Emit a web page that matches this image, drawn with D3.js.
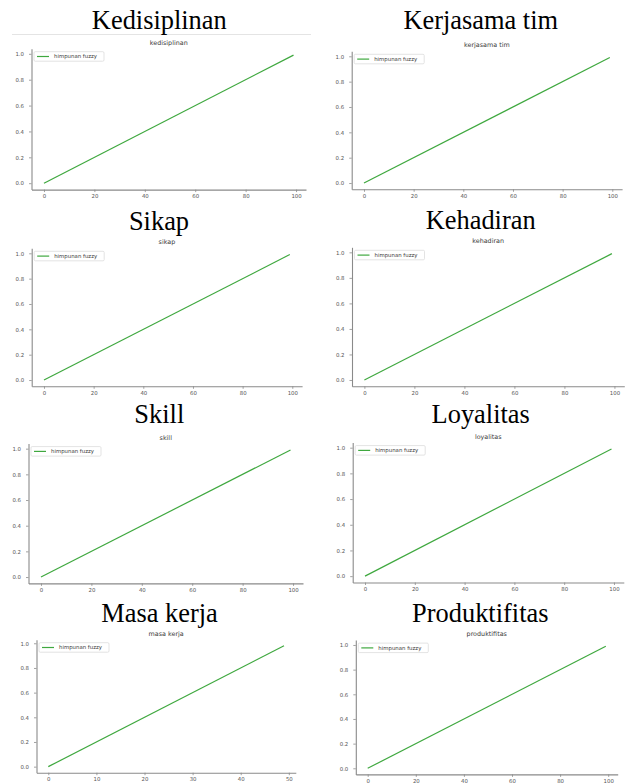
<!DOCTYPE html>
<html>
<head>
<meta charset="utf-8">
<script src="https://cdn.jsdelivr.net/npm/d3@7/dist/d3.min.js"></script>
<style>
  html, body { margin: 0; padding: 0; background: #fff; }
  svg { display: block; }
  .tick text { font-family: "DejaVu Sans", sans-serif; fill: #555; }
</style>
</head>
<body>
<svg id="chart" width="627" height="784"></svg>
<script>
// Membership functions of the fuzzy input variables
const headings   = ["Kedisiplinan", "Kerjasama tim", "Sikap", "Kehadiran", "Skill", "Loyalitas", "Masa kerja", "Produktifitas"];
const plotTitles = ["kedisiplinan", "kerjasama tim", "sikap", "kehadiran", "skill", "loyalitas", "masa kerja", "produktifitas"];
const seriesName = "himpunan fuzzy";

// Universe of discourse (first and last sample) and membership degree at those samples
const universeX = [[0, 99], [0, 99], [0, 99], [0, 99], [0, 99], [0, 99], [0, 49], [0, 99]];
const degreeY   = [[0, 0.99], [0, 0.99], [0, 0.99], [0, 0.99], [0, 0.99], [0, 0.99], [0, 0.98], [0, 0.99]];

// Tick labels
const xTicks100 = [0, 20, 40, 60, 80, 100];
const xTicks50  = [0, 10, 20, 30, 40, 50];
const yTicks    = [0, 0.2, 0.4, 0.6, 0.8, 1.0];
const xTickSets = [xTicks100, xTicks100, xTicks100, xTicks100, xTicks100, xTicks100, xTicks50, xTicks100];

// Panel geometry: axes box [left, top, right, bottom], heading centre and baseline
const panels = [
  { box: [31.5, 48.7, 306.0, 189.6], hx: 159.3, hy: 28.5 },
  { box: [351.7, 51.3, 622.1, 189.3], hx: 480.7, hy: 28.8 },
  { box: [31.7, 248.3, 302.1, 386.3], hx: 159.0, hy: 229.8 },
  { box: [352.0, 247.3, 624.3, 386.3], hx: 480.7, hy: 229.3 },
  { box: [28.5, 443.6, 303.0, 583.4], hx: 159.3, hy: 423.3 },
  { box: [352.7, 442.6, 623.8, 582.5], hx: 480.7, hy: 422.7 },
  { box: [36.5, 639.7, 295.8, 772.7], hx: 159.5, hy: 621.7 },
  { box: [355.8, 640.1, 617.7, 774.4], hx: 480.3, hy: 621.7 }
];

const svg = d3.select("#chart");
const lineColor = "#3fa83f";
const spineColor = "#8a8a8a";

// thin rule under the first heading
svg.append("line")
  .attr("x1", 12).attr("x2", 311).attr("y1", 34.5).attr("y2", 34.5)
  .attr("stroke", "#e4e4e4").attr("stroke-width", 1);

// matplotlib-style 5% margins around the data range
function padded(ext) {
  const m = (ext[1] - ext[0]) * 0.05;
  return [ext[0] - m, ext[1] + m];
}

panels.forEach((p, i) => {
  const [l, t, r, b] = p.box;

  svg.append("text")
    .attr("x", p.hx).attr("y", p.hy)
    .attr("text-anchor", "middle")
    .attr("font-family", "'Liberation Serif', 'Times New Roman', serif")
    .attr("font-size", 26.4)
    .attr("fill", "#000")
    .text(headings[i]);

  const x = d3.scaleLinear().domain(padded(universeX[i])).range([l, r]);
  const y = d3.scaleLinear().domain(padded(degreeY[i])).range([b, t]);

  const g = svg.append("g");

  // axis title
  g.append("text")
    .attr("x", (l + r) / 2).attr("y", t - 4)
    .attr("text-anchor", "middle")
    .attr("font-family", "'DejaVu Sans', sans-serif")
    .attr("font-size", 6.4)
    .attr("fill", "#3a3a3a")
    .text(plotTitles[i]);

  // bottom axis
  const xAxis = g.append("g")
    .attr("transform", `translate(0,${b})`)
    .call(d3.axisBottom(x).tickValues(xTickSets[i]).tickFormat(d3.format("d"))
      .tickSizeInner(2.5).tickSizeOuter(0).tickPadding(2));
  // left axis
  const yAxis = g.append("g")
    .attr("transform", `translate(${l},0)`)
    .call(d3.axisLeft(y).tickValues(yTicks).tickFormat(d3.format(".1f"))
      .tickSizeInner(2.5).tickSizeOuter(0).tickPadding(5));

  [xAxis, yAxis].forEach(ax => {
    ax.select(".domain").attr("stroke", spineColor).attr("stroke-width", 1.1);
    ax.selectAll(".tick line").attr("stroke", spineColor).attr("stroke-width", 0.8);
    ax.selectAll(".tick text").attr("font-size", 5.4).attr("fill", "#555");
  });

  // membership line
  const pts = universeX[i].map((xv, k) => [xv, degreeY[i][k]]);
  g.append("path")
    .datum(pts)
    .attr("d", d3.line().x(d => x(d[0])).y(d => y(d[1])))
    .attr("fill", "none")
    .attr("stroke", lineColor)
    .attr("stroke-width", 1.2);

  // legend
  const lg = g.append("g").attr("transform", `translate(${l + 2.5},${t + 3})`);
  lg.append("rect")
    .attr("width", 70).attr("height", 9.5).attr("rx", 1.2)
    .attr("fill", "#fff").attr("stroke", "#dcdcdc").attr("stroke-width", 0.8);
  lg.append("line")
    .attr("x1", 3).attr("x2", 15).attr("y1", 4.8).attr("y2", 4.8)
    .attr("stroke", lineColor).attr("stroke-width", 1.2);
  lg.append("text")
    .attr("x", 20).attr("y", 6.7)
    .attr("font-family", "'DejaVu Sans', sans-serif")
    .attr("font-size", 5.4)
    .attr("fill", "#3a3a3a")
    .text(seriesName);
});
</script>
</body>
</html>
